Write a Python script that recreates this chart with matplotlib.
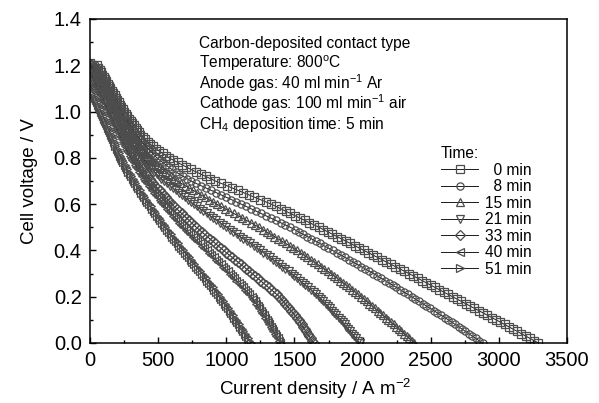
import numpy as np
import matplotlib
matplotlib.use("Agg")
import matplotlib.pyplot as plt
from matplotlib.ticker import MultipleLocator

plt.rcParams["font.family"] = ["Liberation Sans", "DejaVu Sans"]
plt.rcParams["mathtext.fontset"] = "custom"
plt.rcParams["mathtext.rm"] = "Liberation Sans"
plt.rcParams["mathtext.default"] = "regular"

# cell voltage grid (V), shared by all curves
voltage = [
    1.20, 1.19, 1.18, 1.17, 1.16, 1.15, 1.14, 1.13, 1.12, 1.11,
    1.10, 1.09, 1.08, 1.07, 1.06, 1.05, 1.04, 1.03, 1.02, 1.01,
    1.00, 0.99, 0.98, 0.97, 0.96, 0.95, 0.94, 0.93, 0.92, 0.91,
    0.90, 0.89, 0.88, 0.87, 0.86, 0.85, 0.84, 0.83, 0.82, 0.81,
    0.80, 0.79, 0.78, 0.77, 0.76, 0.75, 0.74, 0.73, 0.72, 0.71,
    0.70, 0.69, 0.68, 0.67, 0.66, 0.65, 0.64, 0.63, 0.62, 0.61,
    0.60, 0.59, 0.58, 0.57, 0.56, 0.55, 0.54, 0.53, 0.52, 0.51,
    0.50, 0.49, 0.48, 0.47, 0.46, 0.45, 0.44, 0.43, 0.42, 0.41,
    0.40, 0.39, 0.38, 0.37, 0.36, 0.35, 0.34, 0.33, 0.32, 0.31,
    0.30, 0.29, 0.28, 0.27, 0.26, 0.25, 0.24, 0.23, 0.22, 0.21,
    0.20, 0.19, 0.18, 0.17, 0.16, 0.15, 0.14, 0.13, 0.12, 0.11,
    0.10, 0.09, 0.08, 0.07, 0.06, 0.05, 0.04, 0.03, 0.02, 0.01,
    0.00,
]

times = ["0 min", "8 min", "15 min", "21 min", "33 min", "40 min", "51 min"]
labels = ["  0 min", "  8 min", "15 min", "21 min", "33 min", "40 min", "51 min"]
markers = ["s", "o", "^", "v", "D", "<", ">"]
ocv = [1.21, 1.21, 1.20, 1.20, 1.19, None, None]

# current density (A m-2) at each voltage of the grid
j_0 = [50,
       60, 70, 80, 90, 100, 110, 120, 130, 140, 150,
       160, 170, 180, 190, 200, 210, 220, 230, 240, 250,
       262, 274, 286, 298, 310, 322, 334, 346, 358, 370,
       388, 406, 424, 442, 460, 484, 508, 532, 556, 580,
       612, 644, 676, 708, 740, 776, 812, 848, 884, 920,
       961, 1002, 1043, 1084, 1125, 1166, 1207, 1248, 1289, 1330,
       1365, 1400, 1435, 1470, 1505, 1540, 1575, 1610, 1645, 1680,
       1713, 1746, 1779, 1812, 1845, 1878, 1911, 1944, 1977, 2010,
       2043, 2076, 2109, 2142, 2175, 2208, 2241, 2274, 2307, 2340,
       2372, 2404, 2436, 2468, 2500, 2532, 2564, 2596, 2628, 2660,
       2692, 2724, 2756, 2788, 2820, 2852, 2884, 2916, 2948, 2980,
       3011, 3042, 3073, 3104, 3135, 3166, 3197, 3228, 3259, 3290]
j_8 = [40,
       49, 58, 67, 76, 85, 94, 103, 112, 121, 130,
       140, 150, 160, 170, 180, 190, 200, 210, 220, 230,
       241, 252, 263, 274, 285, 296, 307, 318, 329, 340,
       354, 368, 382, 396, 410, 426, 442, 458, 474, 490,
       512, 534, 556, 578, 600, 628, 656, 684, 712, 740,
       777, 814, 851, 888, 925, 962, 999, 1036, 1073, 1110,
       1146, 1182, 1218, 1254, 1290, 1326, 1362, 1398, 1434, 1470,
       1501, 1532, 1563, 1594, 1625, 1656, 1687, 1718, 1749, 1780,
       1810, 1840, 1870, 1900, 1930, 1960, 1990, 2020, 2050, 2080,
       2108, 2136, 2164, 2192, 2220, 2248, 2276, 2304, 2332, 2360,
       2387, 2414, 2441, 2468, 2495, 2522, 2549, 2576, 2603, 2630,
       2655, 2680, 2705, 2730, 2755, 2780, 2805, 2830, 2855, 2880]
j_15 = [30,
        38, 46, 54, 62, 70, 78, 86, 94, 102, 110,
        119, 128, 137, 146, 155, 164, 173, 182, 191, 200,
        210, 220, 230, 240, 250, 260, 270, 280, 290, 300,
        313, 326, 339, 352, 365, 380, 395, 410, 425, 440,
        458, 476, 494, 512, 530, 552, 574, 596, 618, 640,
        669, 698, 727, 756, 785, 814, 843, 872, 901, 930,
        961, 992, 1023, 1054, 1085, 1116, 1147, 1178, 1209, 1240,
        1268, 1296, 1324, 1352, 1380, 1408, 1436, 1464, 1492, 1520,
        1545, 1570, 1595, 1620, 1645, 1670, 1695, 1720, 1745, 1770,
        1792, 1814, 1836, 1858, 1880, 1902, 1924, 1946, 1968, 1990,
        2010, 2030, 2050, 2070, 2090, 2110, 2130, 2150, 2170, 2190,
        2209, 2228, 2247, 2266, 2285, 2304, 2323, 2342, 2361, 2380]
j_21 = [20,
        28, 36, 44, 52, 60, 68, 76, 84, 92, 100,
        108, 116, 124, 132, 140, 148, 156, 164, 172, 180,
        189, 198, 207, 216, 225, 234, 243, 252, 261, 270,
        281, 292, 303, 314, 325, 337, 349, 361, 373, 385,
        399, 413, 427, 441, 455, 472, 489, 506, 523, 540,
        562, 584, 606, 628, 650, 672, 694, 716, 738, 760,
        784, 808, 832, 856, 880, 904, 928, 952, 976, 1000,
        1025, 1050, 1075, 1100, 1125, 1150, 1175, 1200, 1225, 1250,
        1273, 1296, 1319, 1342, 1365, 1388, 1411, 1434, 1457, 1480,
        1500, 1520, 1540, 1560, 1580, 1600, 1620, 1640, 1660, 1680,
        1696, 1712, 1728, 1744, 1760, 1776, 1792, 1808, 1824, 1840,
        1854, 1868, 1882, 1896, 1910, 1924, 1938, 1952, 1966, 1980]
j_33 = [10,
        17, 24, 31, 38, 45, 52, 59, 66, 73, 80,
        88, 96, 104, 112, 120, 128, 136, 144, 152, 160,
        168, 176, 184, 192, 200, 208, 216, 224, 232, 240,
        249, 258, 267, 276, 285, 295, 305, 315, 325, 335,
        346, 357, 368, 379, 390, 402, 414, 426, 438, 450,
        465, 480, 495, 510, 525, 540, 555, 570, 585, 600,
        618, 636, 654, 672, 690, 708, 726, 744, 762, 780,
        800, 820, 840, 860, 880, 900, 920, 940, 960, 980,
        1001, 1022, 1043, 1064, 1085, 1106, 1127, 1148, 1169, 1190,
        1210, 1230, 1250, 1270, 1290, 1310, 1330, 1350, 1370, 1390,
        1404, 1418, 1432, 1446, 1460, 1474, 1488, 1502, 1516, 1530,
        1541, 1552, 1563, 1574, 1585, 1596, 1607, 1618, 1629, 1640]
j_40 = [None,
        None, None, 0, 8, 16, 24, 32, 40, 48, 56,
        64, 72, 80, 88, 96, 104, 112, 120, 128, 136,
        144, 152, 160, 168, 176, 184, 192, 200, 208, 216,
        224, 232, 240, 248, 256, 265, 274, 283, 292, 301,
        311, 321, 331, 341, 351, 362, 373, 384, 395, 406,
        419, 432, 445, 458, 471, 484, 497, 510, 523, 536,
        551, 566, 581, 596, 611, 626, 641, 656, 671, 686,
        703, 720, 737, 754, 771, 788, 805, 822, 839, 856,
        873, 890, 907, 924, 941, 958, 975, 992, 1009, 1026,
        1042, 1058, 1074, 1090, 1106, 1122, 1138, 1154, 1170, 1186,
        1197, 1208, 1219, 1230, 1241, 1252, 1263, 1274, 1285, 1296,
        1306, 1316, 1326, 1336, 1346, 1356, 1366, 1376, 1386, 1396]
j_51 = [None,
        None, None, None, None, None, None, None, 0, 6, 12,
        19, 26, 33, 40, 47, 54, 61, 68, 75, 82,
        89, 96, 103, 110, 117, 124, 131, 138, 145, 152,
        159, 166, 173, 180, 187, 195, 203, 211, 219, 227,
        236, 245, 254, 263, 272, 282, 292, 302, 312, 322,
        333, 344, 355, 366, 377, 388, 399, 410, 421, 432,
        444, 456, 468, 480, 492, 504, 516, 528, 540, 552,
        565, 578, 591, 604, 617, 630, 643, 656, 669, 682,
        696, 710, 724, 738, 752, 766, 780, 794, 808, 822,
        835, 848, 861, 874, 887, 900, 913, 926, 939, 952,
        964, 976, 988, 1000, 1012, 1024, 1036, 1048, 1060, 1071,
        1082, 1093, 1104, 1115, 1126, 1137, 1148, 1159, 1170, 1180]

currents = [j_0, j_8, j_15, j_21, j_33, j_40, j_51]

fig = plt.figure(figsize=(5.99, 4.03), dpi=100)
ax = fig.add_axes([90 / 599, 60 / 403, 477 / 599, 324 / 403])

v = np.array(voltage, dtype=float)
handles = []
for j, m, v0, lab in zip(currents, markers, ocv, labels):
    j = np.array(j, dtype=float)
    ok = ~np.isnan(j)
    x = j[ok]
    y = v[ok]
    if v0 is not None:
        x = np.concatenate([[0.0], x])
        y = np.concatenate([[v0], y])
    h, = ax.plot(x, y, color="0.1", lw=0.7, marker=m, ms=5.2,
                 mfc="none", mec="0.3", mew=0.9, label=lab)
    handles.append(h)

ax.set_xlim(0, 3500)
ax.set_ylim(0, 1.4)
ax.xaxis.set_major_locator(MultipleLocator(500))
ax.xaxis.set_minor_locator(MultipleLocator(250))
ax.yaxis.set_major_locator(MultipleLocator(0.2))
ax.yaxis.set_minor_locator(MultipleLocator(0.1))
ax.yaxis.set_major_formatter(plt.FormatStrFormatter("%.1f"))
ax.tick_params(which="both", direction="in", top=False, right=False,
               labelsize=14.5, width=1.0)
ax.tick_params(which="major", length=4.5, pad=6)
ax.tick_params(which="minor", length=2.5)
for s in ax.spines.values():
    s.set_linewidth(1.1)

ax.set_xlabel("Current density / A m$^{-2}$", fontsize=13.5)
ax.set_ylabel("Cell voltage / V", fontsize=13.5)
ax.xaxis.set_label_coords(0.473, -0.105)
ax.yaxis.set_label_coords(-0.109, 0.5)

info = [
    "Carbon-deposited contact type",
    "Temperature: 800$^{o}$C",
    "Anode gas: 40 ml min$^{-1}$ Ar",
    "Cathode gas: 100 ml min$^{-1}$ air",
    "CH$_4$ deposition time: 5 min",
]
for k, line in enumerate(info):
    ax.text(0.2285, 0.91 - k * 0.0625, line, transform=ax.transAxes,
            fontsize=11.2, va="baseline", ha="left")

leg = ax.legend(handles=handles, labels=labels, title="Time:",
                loc="upper left", bbox_to_anchor=(0.736, 0.608),
                frameon=False, fontsize=11.2, title_fontsize=11.2,
                handlelength=2.4, handletextpad=0.45, labelspacing=0.1,
                borderpad=0, borderaxespad=0, numpoints=1,
                alignment="left")

fig.savefig("out.png", dpi=100)
